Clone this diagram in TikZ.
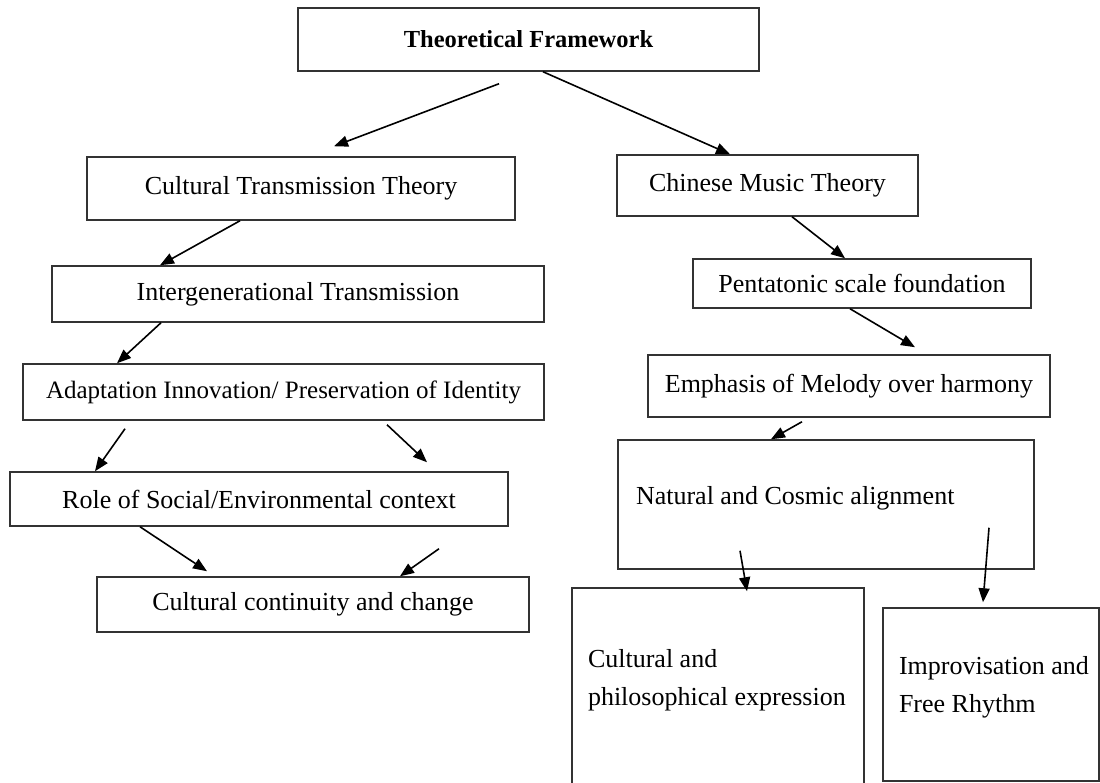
\documentclass[tikz,border=0pt]{standalone}
\usepackage{fontspec}
\setmainfont{Liberation Serif}
\usetikzlibrary{arrows.meta,calc}

\begin{document}
\begin{tikzpicture}[x=1pt,y=-1pt,
  box/.style={draw=black!80,line width=1.5pt,inner sep=0pt,font=\fontsize{26}{38}\selectfont},
  arr/.style={line width=1.6pt,-{Triangle[length=14pt,width=11pt]}}]
  \useasboundingbox (0,0) rectangle (1100,783);
  \clip (0,0) rectangle (1100,783);
  \node[box,minimum width=461pt,minimum height=63pt] (top) at (528.5,39.5) {\fontsize{24.5}{30}\selectfont\bfseries Theoretical Framework};
  \node[box,minimum width=428pt,minimum height=63pt] (ctt) at (301,188.5) {Cultural Transmission Theory};
  \node[box,minimum width=492pt,minimum height=56pt] (igt) at (298,294) {Intergenerational Transmission};
  \node[box,minimum width=521pt,minimum height=56pt] (ada) at (283.5,392) {\fontsize{25}{30}\selectfont Adaptation Innovation/ Preservation of Identity};
  \node[box,minimum width=498pt,minimum height=54pt] (role) at (259,499) {Role of Social/Environmental context};
  \node[box,minimum width=432pt,minimum height=55pt] (ccc) at (313,604.5) {Cultural continuity and change};
  \node[box,minimum width=301pt,minimum height=61pt] (cmt) at (767.5,185.5) {Chinese Music Theory};
  \node[box,minimum width=338pt,minimum height=49pt] (pent) at (862,283.5) {Pentatonic scale foundation};
  \node[box,minimum width=402pt,minimum height=62pt] (emph) at (849,386) {Emphasis of Melody over harmony};
  \node[box,align=flush left,text width=380pt,inner xsep=18pt,text height=64pt,text depth=65pt] (nca) at (826,504.5) {Natural and Cosmic alignment};
  \node[box,align=flush left,text width=260pt,inner xsep=16pt,text height=79pt,text depth=133pt] (cpe) at (718,694) {Cultural and\\\mbox{philosophical expression}};
  \node[box,align=flush left,text width=184pt,inner xsep=16pt,text height=66pt,text depth=107pt] (ifr) at (991,694.5) {\mbox{Improvisation and}\\Free Rhythm};

  \draw[arr] ($(499,0 |- top.south)+(0,12)$) -- ($(334,0 |- ctt.north)+(0,-10)$);
  \draw[arr] (543,0 |- top.south) -- (730,0 |- cmt.north);
  \draw[arr] (240,0 |- ctt.south) -- (160,0 |- igt.north);
  \draw[arr] (161,0 |- igt.south) -- (117,0 |- ada.north);
  \draw[arr] ($(125,0 |- ada.south)+(0,8)$) -- (95,0 |- role.north);
  \draw[arr] ($(387,0 |- ada.south)+(0,4)$) -- ($(427,0 |- role.north)+(0,-9)$);
  \draw[arr] (140,0 |- role.south) -- ($(207,0 |- ccc.north)+(0,-5)$);
  \draw[arr] ($(439,0 |- role.south)+(0,22)$) -- (400,0 |- ccc.north);
  \draw[arr] (792,0 |- cmt.south) -- (845,0 |- pent.north);
  \draw[arr] (850,0 |- pent.south) -- ($(915,0 |- emph.north)+(0,-7)$);
  \draw[arr] ($(802,0 |- emph.south)+(0,4)$) -- (771,0 |- nca.north);
  \draw[arr] ($(740,0 |- nca.south)+(0,-19)$) -- ($(747,0 |- cpe.north)+(0,4)$);
  \draw[arr] ($(989,0 |- nca.south)+(0,-42)$) -- ($(983,0 |- ifr.north)+(0,-5)$);
\end{tikzpicture}
\end{document}
